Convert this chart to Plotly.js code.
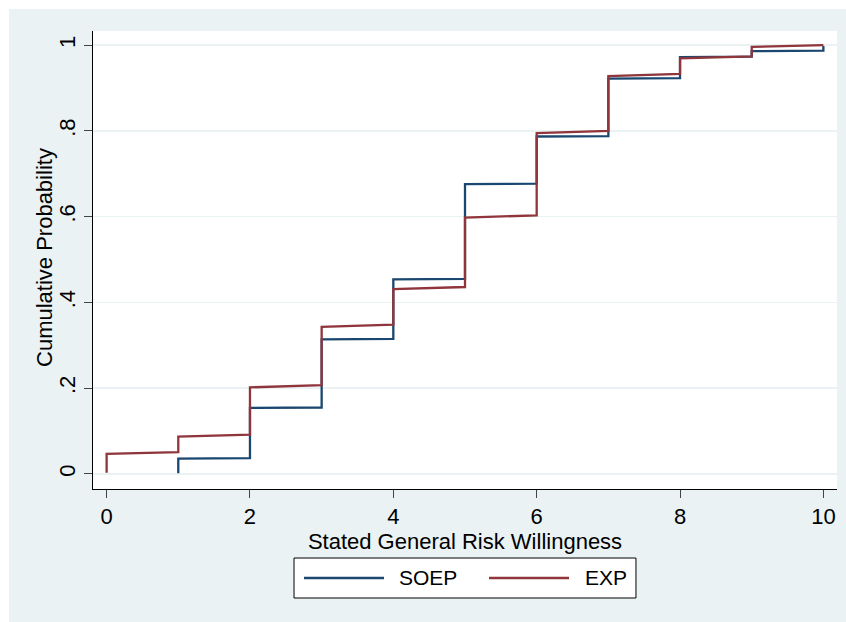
<!DOCTYPE html>
<html>
<head>
<meta charset="utf-8">
<script src="https://cdn.plot.ly/plotly-3.0.1.min.js"></script>
<style>
  html, body { margin: 0; padding: 0; background: #ffffff; }
  #chart { position: absolute; left: 9px; top: 9px; width: 837px; height: 613px; }
</style>
</head>
<body>
<div id="chart"></div>
<script>
// Stated general risk willingness (0-10) — step vertices of the empirical CDFs
const soepX = [1, 1, 2, 2, 3, 3, 4, 4, 5, 5, 6, 6, 7, 7, 8, 8, 9, 9, 10, 10];
const soepY = [0.002, 0.036, 0.037, 0.154, 0.155, 0.314, 0.315, 0.454, 0.455, 0.676, 0.677, 0.787, 0.788, 0.922, 0.923, 0.972, 0.973, 0.986, 0.987, 0.998];

const expX = [0, 0, 1, 1, 2, 2, 3, 3, 4, 4, 5, 5, 6, 6, 7, 7, 8, 8, 9, 9, 10];
const expY = [0.003, 0.047, 0.051, 0.087, 0.092, 0.202, 0.207, 0.343, 0.348, 0.431, 0.436, 0.598, 0.603, 0.795, 0.800, 0.928, 0.933, 0.969, 0.974, 0.996, 1.000];

const seriesNames = ['SOEP', 'EXP'];
const seriesColors = ['#1a476f', '#90353b'];

const xTicks = [0, 2, 4, 6, 8, 10];
const xTickText = ['0', '2', '4', '6', '8', '10'];
const yTicks = [0, 0.2, 0.4, 0.6, 0.8, 1];
const yTickText = ['0', '.2', '.4', '.6', '.8', '1'];

const FONT = 'Liberation Sans, Arial, sans-serif';
const FS = 22;

const traces = [
  { x: soepX, y: soepY, name: seriesNames[0], mode: 'lines', type: 'scatter',
    line: { color: seriesColors[0], width: 2.3 } },
  { x: expX, y: expY, name: seriesNames[1], mode: 'lines', type: 'scatter',
    line: { color: seriesColors[1], width: 2.3 } }
];

// Legend box drawn below the plot (Stata-style), in paper coordinates
const legY = -0.1943;
const shapes = [
  { type: 'rect', xref: 'paper', yref: 'paper', x0: 0.2702, x1: 0.7298, y0: -0.2380, y1: -0.1507,
    fillcolor: '#ffffff', line: { color: '#000000', width: 1 } },
  { type: 'line', xref: 'paper', yref: 'paper', x0: 0.2836, x1: 0.3911, y0: legY, y1: legY,
    line: { color: seriesColors[0], width: 2.3 } },
  { type: 'line', xref: 'paper', yref: 'paper', x0: 0.5323, x1: 0.6398, y0: legY, y1: legY,
    line: { color: seriesColors[1], width: 2.3 } }
];
const annotations = [
  { xref: 'paper', yref: 'paper', x: 0.4086, y: legY, xanchor: 'left', yanchor: 'middle',
    text: seriesNames[0], showarrow: false, font: { family: FONT, size: 21, color: '#000000' } },
  { xref: 'paper', yref: 'paper', x: 0.6586, y: legY, xanchor: 'left', yanchor: 'middle',
    text: seriesNames[1], showarrow: false, font: { family: FONT, size: 21, color: '#000000' } },
  { xref: 'paper', yref: 'paper', x: -0.0645, y: 0.5044, xanchor: 'center', yanchor: 'middle',
    textangle: -90, text: 'Cumulative Probability', showarrow: false,
    font: { family: FONT, size: FS, color: '#000000' } }
];

const layout = {
  width: 837, height: 613,
  paper_bgcolor: '#eaf2f3',
  plot_bgcolor: '#ffffff',
  margin: { l: 84, r: 9, t: 22, b: 133 },
  font: { family: FONT, size: FS, color: '#000000' },
  showlegend: false,
  shapes: shapes,
  annotations: annotations,
  xaxis: {
    range: [-0.19, 10.19],
    tickvals: xTicks, ticktext: xTickText,
    ticks: 'outside', ticklen: 8, tickcolor: '#444444', tickwidth: 1,
    showline: true, linecolor: '#000000', linewidth: 1,
    showgrid: false, zeroline: false,
    tickfont: { family: FONT, size: FS },
    title: { text: 'Stated General Risk Willingness', font: { family: FONT, size: FS }, standoff: 0 }
  },
  yaxis: {
    range: [-0.035, 1.033],
    tickvals: yTicks, ticktext: yTickText,
    tickangle: -90,
    ticks: 'outside', ticklen: 8, tickcolor: '#444444', tickwidth: 1,
    showline: true, linecolor: '#000000', linewidth: 1,
    showgrid: true, gridcolor: '#eaf2f3', gridwidth: 1.5,
    zeroline: false,
    tickfont: { family: FONT, size: FS }
  }
};

Plotly.newPlot('chart', traces, layout, { displayModeBar: false, staticPlot: true });
</script>
</body>
</html>
